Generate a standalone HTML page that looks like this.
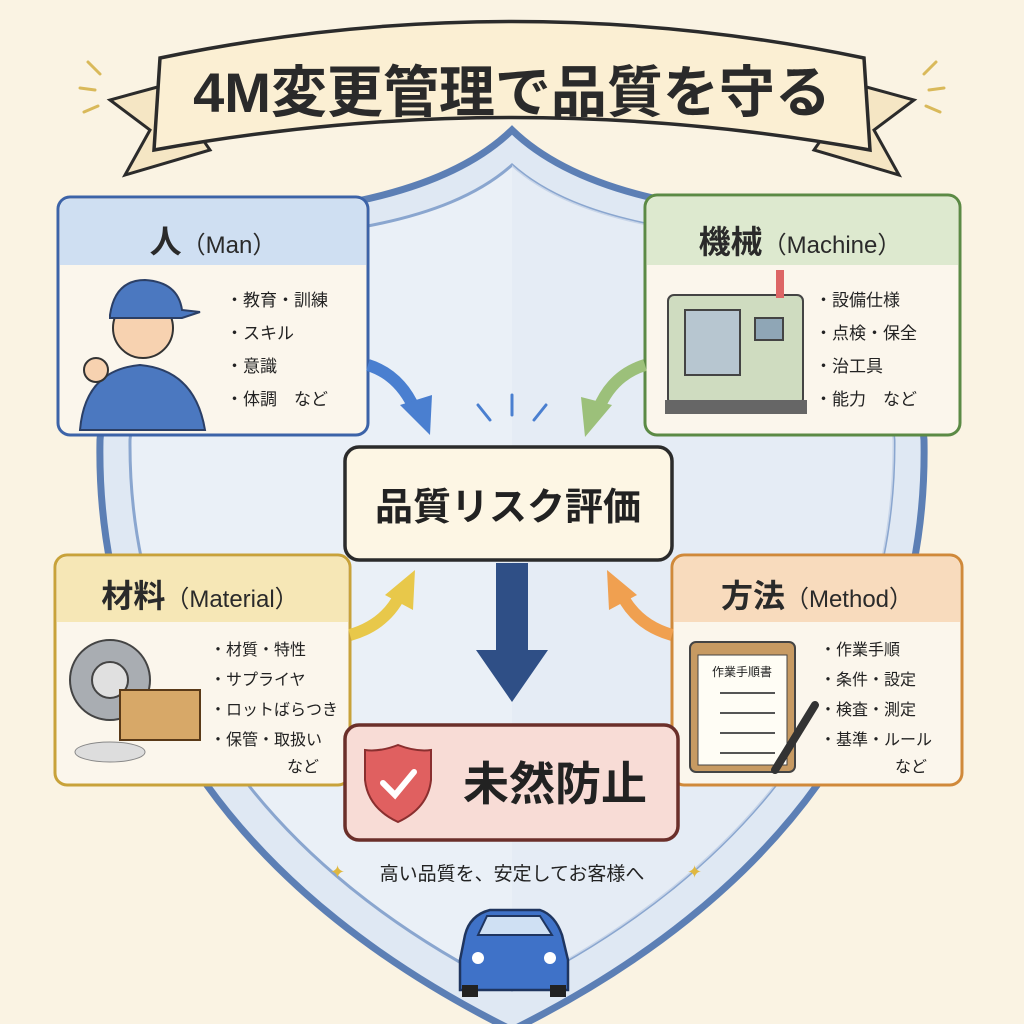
<!DOCTYPE html>
<html><head><meta charset="utf-8"><style>
html,body{margin:0;padding:0;background:#faf3e3;}
svg{display:block;}
text{font-family:"Liberation Sans","Noto Sans CJK JP",sans-serif;}
</style></head><body>
<svg width="1024" height="1024" viewBox="0 0 1024 1024" xmlns="http://www.w3.org/2000/svg">
<rect width="1024" height="1024" fill="#faf3e3"/>
<!-- shield -->
<path d="M512 130 C440 200 300 220 120 220 L100 440 C95 700 250 900 512 1030 C774 900 929 700 924 440 L904 220 C724 220 584 200 512 130Z" fill="#dfe8f3" stroke="#5c7fb5" stroke-width="7"/>
<path d="M512 165 C445 225 320 240 150 245 L130 440 C128 680 270 870 512 990 C754 870 896 680 894 440 L874 245 C704 240 579 225 512 165Z" fill="#eaf0f7" stroke="#8aa6cf" stroke-width="3"/>
<path d="M512 165 L512 990 C754 870 896 680 894 440 L874 245 C704 240 579 225 512 165Z" fill="#e2eaf4" opacity="0.7"/>
<!-- banner tails -->
<path d="M165 85 L110 100 L150 130 L125 175 L210 150 Z" fill="#f5e6c4" stroke="#2b2b2b" stroke-width="3"/>
<path d="M859 85 L914 100 L874 130 L899 175 L814 150 Z" fill="#f5e6c4" stroke="#2b2b2b" stroke-width="3"/>
<path d="M160 58 Q512 -15 864 58 L870 150 Q512 85 154 150 Z" fill="#fbefd3" stroke="#2b2b2b" stroke-width="3.5"/>
<text x="512" y="112" font-size="56" font-weight="bold" fill="#2a2a2a" text-anchor="middle">4M変更管理で品質を守る</text>
<g stroke="#d9b95a" stroke-width="3" stroke-linecap="round">
<line x1="88" y1="62" x2="100" y2="74"/><line x1="80" y1="88" x2="95" y2="90"/><line x1="84" y1="112" x2="98" y2="106"/>
<line x1="936" y1="62" x2="924" y2="74"/><line x1="944" y1="88" x2="929" y2="90"/><line x1="940" y1="112" x2="926" y2="106"/>
</g>
<!-- Man box -->
<rect x="58" y="197" width="310" height="238" rx="12" fill="#fbf6ec" stroke="#3c63a8" stroke-width="3"/>
<path d="M60 265 L60 209 Q60 199 70 199 L356 199 Q366 199 366 209 L366 265 Z" fill="#cfdff2"/>
<text x="213" y="253" font-size="32" font-weight="bold" fill="#2a2a2a" text-anchor="middle">人<tspan font-size="24" font-weight="normal">（Man）</tspan></text>
<g font-size="17" fill="#222"><text x="226" y="306">・教育・訓練</text><text x="226" y="339">・スキル</text><text x="226" y="372">・意識</text><text x="226" y="405">・体調　など</text></g>
<!-- person -->
<path d="M80 430 Q85 370 140 365 Q195 370 205 430 Z" fill="#4b78c0" stroke="#2b3f66" stroke-width="2"/>
<circle cx="143" cy="328" r="30" fill="#f7d2b0" stroke="#333" stroke-width="2"/>
<path d="M110 315 Q115 280 145 280 Q178 282 182 310 L200 312 L182 318 L110 318Z" fill="#4b78c0" stroke="#2b3f66" stroke-width="2"/>
<circle cx="96" cy="370" r="12" fill="#f7d2b0" stroke="#333" stroke-width="2"/>
<!-- Machine box -->
<rect x="645" y="195" width="315" height="240" rx="12" fill="#fbf6ec" stroke="#5b8a45" stroke-width="3"/>
<path d="M647 265 L647 207 Q647 197 657 197 L948 197 Q958 197 958 207 L958 265 Z" fill="#dde9cf"/>
<text x="800" y="253" font-size="32" font-weight="bold" fill="#2a2a2a" text-anchor="middle">機械<tspan font-size="24" font-weight="normal">（Machine）</tspan></text>
<g font-size="17" fill="#222"><text x="815" y="306">・設備仕様</text><text x="815" y="339">・点検・保全</text><text x="815" y="372">・治工具</text><text x="815" y="405">・能力　など</text></g>
<rect x="668" y="295" width="135" height="110" rx="6" fill="#cfdcc0" stroke="#444" stroke-width="2"/>
<rect x="685" y="310" width="55" height="65" fill="#b7c6d0" stroke="#444" stroke-width="2"/>
<rect x="755" y="318" width="28" height="22" fill="#8fa6b6" stroke="#444" stroke-width="2"/>
<rect x="665" y="400" width="142" height="14" fill="#666"/>
<rect x="776" y="270" width="8" height="28" fill="#d66"/>
<!-- Material box -->
<rect x="55" y="555" width="295" height="230" rx="12" fill="#fbf6ec" stroke="#c8a23a" stroke-width="3"/>
<path d="M57 622 L57 567 Q57 557 67 557 L338 557 Q348 557 348 567 L348 622 Z" fill="#f6e7b6"/>
<text x="200" y="607" font-size="32" font-weight="bold" fill="#2a2a2a" text-anchor="middle">材料<tspan font-size="24" font-weight="normal">（Material）</tspan></text>
<g font-size="16" fill="#222"><text x="210" y="655">・材質・特性</text><text x="210" y="685">・サプライヤ</text><text x="210" y="715">・ロットばらつき</text><text x="210" y="745">・保管・取扱い</text><text x="287" y="772">など</text></g>
<circle cx="110" cy="680" r="40" fill="#a9adb2" stroke="#444" stroke-width="2"/><circle cx="110" cy="680" r="18" fill="#e0e0e0" stroke="#444" stroke-width="2"/>
<rect x="120" y="690" width="80" height="50" fill="#d7a868" stroke="#5a3a18" stroke-width="2"/>
<ellipse cx="110" cy="752" rx="35" ry="10" fill="#ddd" stroke="#888"/>
<!-- Method box -->
<rect x="672" y="555" width="290" height="230" rx="12" fill="#fbf6ec" stroke="#d0893a" stroke-width="3"/>
<path d="M674 622 L674 567 Q674 557 684 557 L950 557 Q960 557 960 567 L960 622 Z" fill="#f8dbbd"/>
<text x="817" y="607" font-size="32" font-weight="bold" fill="#2a2a2a" text-anchor="middle">方法<tspan font-size="24" font-weight="normal">（Method）</tspan></text>
<g font-size="16" fill="#222"><text x="820" y="655">・作業手順</text><text x="820" y="685">・条件・設定</text><text x="820" y="715">・検査・測定</text><text x="820" y="745">・基準・ルール</text><text x="895" y="772">など</text></g>
<rect x="690" y="642" width="105" height="130" rx="6" fill="#c79a62" stroke="#444" stroke-width="2"/>
<rect x="698" y="655" width="89" height="110" fill="#fffdf5" stroke="#444"/>
<text x="742" y="676" font-size="12" text-anchor="middle" fill="#222">作業手順書</text>
<g stroke="#555" stroke-width="2"><line x1="720" y1="693" x2="775" y2="693"/><line x1="720" y1="713" x2="775" y2="713"/><line x1="720" y1="733" x2="775" y2="733"/><line x1="720" y1="753" x2="775" y2="753"/></g>
<line x1="815" y1="705" x2="775" y2="770" stroke="#333" stroke-width="8" stroke-linecap="round"/>
<!-- arrows -->
<path d="M368 365 Q400 375 415 410" fill="none" stroke="#4a7fd0" stroke-width="12"/><polygon points="400,405 430,435 432,395" fill="#4a7fd0"/>
<path d="M645 365 Q612 375 598 410" fill="none" stroke="#9cc07a" stroke-width="12"/><polygon points="612,405 585,437 581,397" fill="#9cc07a"/>
<path d="M350 635 Q385 625 400 595" fill="none" stroke="#e8c84a" stroke-width="12"/><polygon points="385,595 415,570 413,610" fill="#e8c84a"/>
<path d="M672 635 Q637 625 622 595" fill="none" stroke="#f0a050" stroke-width="12"/><polygon points="637,595 607,570 609,610" fill="#f0a050"/>
<g stroke="#4a7fd0" stroke-width="3" stroke-linecap="round"><line x1="478" y1="405" x2="490" y2="420"/><line x1="512" y1="395" x2="512" y2="415"/><line x1="546" y1="405" x2="534" y2="420"/></g>
<!-- center -->
<rect x="345" y="447" width="327" height="113" rx="14" fill="#fdf6e4" stroke="#2b2b2b" stroke-width="3.5"/>
<text x="508" y="520" font-size="38" font-weight="bold" fill="#222" text-anchor="middle">品質リスク評価</text>
<polygon points="496,563 528,563 528,650 548,650 512,702 476,650 496,650" fill="#2f4f86"/>
<rect x="345" y="725" width="333" height="115" rx="14" fill="#f8dcd6" stroke="#6b2f2a" stroke-width="3.5"/>
<path d="M398 745 Q380 752 365 750 L365 780 Q368 808 398 822 Q428 808 431 780 L431 750 Q416 752 398 745Z" fill="#e06060" stroke="#8a2f2f" stroke-width="2"/>
<path d="M383 783 L395 795 L414 772" fill="none" stroke="#fff" stroke-width="6" stroke-linecap="round"/>
<text x="555" y="800" font-size="46" font-weight="bold" fill="#222" text-anchor="middle">未然防止</text>
<text x="512" y="880" font-size="19" fill="#222" text-anchor="middle">高い品質を、安定してお客様へ</text>
<text x="330" y="878" font-size="18" fill="#e0b840">✦</text><text x="687" y="878" font-size="18" fill="#e0b840">✦</text>
<!-- car -->
<path d="M460 960 L465 935 Q470 915 490 910 L540 910 Q555 915 562 935 L568 960 L568 990 L460 990Z" fill="#3f72c8" stroke="#1f355f" stroke-width="2.5"/>
<path d="M478 935 L487 916 L540 916 L552 935Z" fill="#cfe0f3" stroke="#1f355f" stroke-width="2"/>
<circle cx="478" cy="958" r="6" fill="#fff"/><circle cx="550" cy="958" r="6" fill="#fff"/>
<rect x="462" y="985" width="16" height="12" fill="#222"/><rect x="550" y="985" width="16" height="12" fill="#222"/>
</svg>
</body></html>
